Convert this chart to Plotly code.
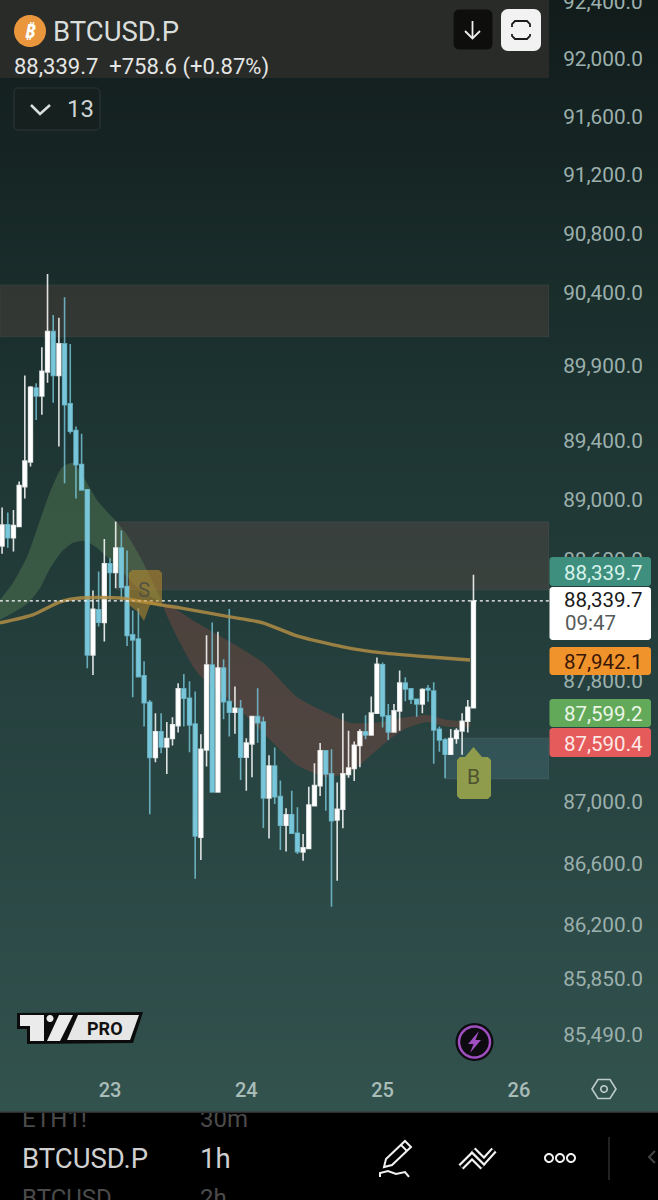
import numpy as np
import plotly.graph_objects as go

FONT = 'Roboto'
W = 658
H = 1200
AXIS_X = 549

# hours from 23rd 00:00
HOURS = list(range(-19, 65))
OPEN = [88693, 88833, 88747, 88822, 89089, 89255, 89752, 89698, 89861, 90133,
        89836, 90050, 89646, 89465, 89237, 89067, 87969, 88267, 88183, 88573,
        88515, 88678, 88422, 88101, 88073, 87830, 87656, 87292, 87461, 87362,
        87417, 87502, 87744, 87682, 87513, 86771, 87342, 87901, 87067, 87881,
        87660, 87590, 87614, 87295, 87382, 87561, 87526, 87027, 87237, 87036,
        86849, 86918, 86797, 86675, 86697, 86977, 87108, 87336, 87185, 86884,
        86953, 87182, 87220, 87371, 87461, 87441, 87584, 87903, 87566, 87461,
        87599, 87782, 87744, 87676, 87645, 87746, 87730, 87478, 87408, 87314,
        87417, 87467, 87531, 87620]
HIGH = [88949, 88915, 88933, 89123, 89836, 89766, 89784, 90028, 90525, 90246,
        90228, 90366, 90050, 89492, 89443, 89067, 88395, 88522, 88738, 88611,
        88855, 88795, 88662, 88262, 88278, 87927, 87671, 87584, 87584, 87526,
        87557, 87782, 87843, 87795, 87726, 87446, 88099, 88183, 88121, 87940,
        88273, 87759, 87671, 87419, 87561, 87748, 87561, 87308, 87358, 87141,
        86960, 87075, 86966, 86792, 87101, 87255, 87387, 87336, 87347, 87128,
        87584, 87469, 87397, 87478, 87570, 87693, 87951, 87918, 87645, 87645,
        87865, 87821, 87748, 87676, 87748, 87770, 87788, 87496, 87419, 87480,
        87485, 87584, 87671, 88500]
LOW = [88640, 88680, 88655, 88822, 89009, 89223, 89537, 89572, 89788, 89653,
       89358, 89112, 89443, 89009, 89067, 87881, 87836, 88156, 88057, 88333,
       88411, 88333, 88028, 87689, 87825, 87496, 86921, 87262, 87321, 87185,
       87371, 87456, 87496, 87327, 86501, 86623, 87233, 87067, 87067, 87544,
       87430, 87448, 87145, 87075, 87163, 87390, 86831, 86762, 86988, 86688,
       86677, 86797, 86662, 86618, 86697, 86977, 87040, 86944, 86319, 86488,
       86829, 87160, 87139, 87229, 87413, 87441, 87584, 87489, 87408, 87461,
       87469, 87662, 87645, 87561, 87584, 87660, 87251, 87331, 87157, 87314,
       87382, 87310, 87456, 87620]
CLOSE = [88831, 88747, 88829, 89096, 89260, 89757, 89698, 89865, 90133, 89836,
         90050, 89639, 89461, 89235, 89067, 87969, 88271, 88185, 88573, 88515,
         88678, 88418, 88097, 88068, 87825, 87653, 87292, 87461, 87362, 87417,
         87507, 87744, 87682, 87507, 86779, 87347, 87901, 87067, 87881, 87660,
         87590, 87616, 87295, 87387, 87561, 87522, 87027, 87237, 87036, 86849,
         86918, 86797, 86677, 86701, 86981, 87108, 87336, 87185, 86879, 86953,
         87185, 87224, 87373, 87461, 87441, 87584, 87907, 87566, 87461, 87599,
         87782, 87744, 87676, 87645, 87739, 87737, 87474, 87408, 87314, 87417,
         87469, 87531, 87623, 88326]

GREEN_HOURS = [-19.4, -17.1, -14.6, -12.3, -10.6, -8.5, -6.5, -4.4, -2.3, 0.5, 3, 5.3, 7.6, 9.3]
GREEN_UPPER = [88333, 88446, 88620, 88867, 89047, 89215, 89248, 89134, 89000, 88880, 88767, 88620, 88446, 88313]
GREEN_LOWER = [88201, 88247, 88307, 88413, 88540, 88653, 88713, 88727, 88680, 88580, 88486, 88400, 88346, 88313]

RED_HOURS = [9.3, 15.3, 21.1, 27, 32.9, 38.2, 42.3, 48, 51.6, 55.8, 59.3, 63.4]
RED_UPPER = [88313, 88181, 88055, 87916, 87691, 87586, 87520, 87526, 87553, 87572, 87540, 87520]
RED_LOWER = [88313, 87856, 87671, 87454, 87244, 87165, 87198, 87375, 87474, 87526, 87494, 87494]

EMA_HOURS = [-19.4, -13.6, -8.8, -5.3, 1.8, 8.8, 12.3, 21.1, 26.9, 32.9, 41, 48, 55.8, 63.4]
EMA_VALUES = [88181, 88234, 88320, 88346, 88346, 88300, 88280, 88220, 88181, 88095, 88022, 87982, 87956, 87935]

PRICE_TICKS = [92000, 91600, 91200, 90800, 90400, 89900, 89400, 89000,
               88600, 87800, 87000, 86600, 86200, 85850, 85490]
DAY_TICKS = [0, 24, 48, 72]
DAY_LABELS = ['23', '24', '25', '26']

LAST_LINE = 88326
ZONES = [(-19.4, 90450, 90098), (1.2, 88853, 88400), (59, 87421, 87152)]

BG_STOPS = [(0, (18, 28, 27)), (150, (22, 37, 36)), (400, (29, 52, 50)),
            (700, (38, 65, 63)), (1112, (51, 83, 79))]


def px(x, y):
    return x / W, 1 - y / H


def to_path(points, close=True):
    parts = []
    for i, (x, y) in enumerate(points):
        fx, fy = px(x, y)
        parts.append(('M' if i == 0 else 'L') + f'{fx:.5f},{fy:.5f}')
    return ' '.join(parts) + (' Z' if close else '')


def round_rect(x0, y0, x1, y1, r):
    pts = []
    corners = [(x1 - r, y0 + r, -90), (x1 - r, y1 - r, 0), (x0 + r, y1 - r, 90), (x0 + r, y0 + r, 180)]
    for cx, cy, start in corners:
        for a in np.radians(np.linspace(start, start + 90, 5)):
            pts.append((cx + r * np.cos(a), cy + r * np.sin(a)))
    return to_path(pts)


def circle(cx, cy, r):
    return to_path([(cx + r * np.cos(a), cy + r * np.sin(a)) for a in np.linspace(0, 2 * np.pi, 40)[:-1]])


def add_path(fig, path, fill='rgba(0,0,0,0)', line='rgba(0,0,0,0)', width=0, layer='above'):
    fig.add_shape(type='path', path=path, xref='paper', yref='paper', fillcolor=fill,
                  line=dict(color=line, width=width), layer=layer)


def add_text(fig, x, y, text, size, color, anchor='left', family=FONT):
    fx, fy = px(x, y)
    fig.add_annotation(x=fx, y=fy, xref='paper', yref='paper', text=text, showarrow=False,
                       xanchor=anchor, yanchor='middle', borderpad=0,
                       font=dict(family=family, size=size, color=color))


def add_background(fig):
    steps = list(range(0, 1112, 8))
    ys = [s[0] for s in BG_STOPS]
    for y in steps:
        rgb = [int(np.interp(y + 4, ys, [s[1][i] for s in BG_STOPS])) for i in range(3)]
        fx0, fy0 = px(0, y)
        fx1, fy1 = px(W, y + 8)
        fig.add_shape(type='rect', xref='paper', yref='paper', x0=fx0, x1=fx1, y0=fy0, y1=fy1,
                      fillcolor=f'rgb({rgb[0]},{rgb[1]},{rgb[2]})', line_width=0, layer='below')
    fx0, fy0 = px(0, 1112)
    fx1, fy1 = px(W, H)
    fig.add_shape(type='rect', xref='paper', yref='paper', x0=fx0, x1=fx1, y0=fy0, y1=fy1,
                  fillcolor='#000000', line_width=0, layer='below')
    fig.add_shape(type='line', xref='paper', yref='paper', x0=fx0, x1=fx1, y0=fy0, y1=fy0,
                  line=dict(color='#3a3f3e', width=1.5), layer='above')


def add_zones(fig):
    colors = ['rgba(126,84,76,0.25)', 'rgba(126,84,76,0.25)', 'rgba(110,170,195,0.17)']
    for (start, top, bottom), color in zip(ZONES, colors):
        fig.add_shape(type='rect', xref='x', yref='y', x0=start, x1=77.3, y0=bottom, y1=top,
                      fillcolor=color, line=dict(color='rgba(255,255,255,0.06)', width=1), layer='below')
    fig.add_shape(type='line', xref='x', yref='y', x0=-19.4, x1=77.3, y0=LAST_LINE, y1=LAST_LINE,
                  line=dict(color='#ffffff', width=1.3, dash='dot'), layer='above')


def add_header(fig):
    add_path(fig, to_path([(0, 0), (AXIS_X, 0), (AXIS_X, 78), (0, 78)]), fill='rgba(42,44,41,0.95)')
    add_text(fig, 603, 2, '92,400.0', 20.8, '#9cb0ad', 'center')
    add_path(fig, circle(30, 31, 16), fill='#e9963c')
    add_text(fig, 30, 31, '<b><i>₿</i></b>', 19, '#ffffff', 'center', 'Noto Sans')
    add_text(fig, 52, 31, 'BTCUSD.P', 27.5, '#d9dddc')
    add_text(fig, 13, 67, '88,339.7  +758.6 (+0.87%)', 22, '#e4e6e5')
    add_path(fig, round_rect(14, 88, 100, 130, 4), fill='#16211f', line='#2d3836', width=1)
    add_path(fig, to_path([(31, 105), (40, 114), (50, 105)], close=False), line='#d9dddc', width=2.5)
    add_text(fig, 66, 109, '13', 24, '#cfd5d4')
    # top right buttons
    add_path(fig, round_rect(453, 9, 493, 50, 6), fill='#0e0e0d', line='#2c2c2a', width=1)
    add_path(fig, to_path([(472.5, 21), (472.5, 38)], close=False), line='#f0f0f0', width=1.8)
    add_path(fig, to_path([(465, 31), (472.5, 38.5), (480, 31)], close=False), line='#f0f0f0', width=1.8)
    add_path(fig, round_rect(501, 9, 541, 51, 7), fill='#f2f2f2')
    add_path(fig, to_path([(512, 27), (512, 24), (515, 21), (527, 21), (530, 24), (530, 27)], close=False),
             line='#1a1a1a', width=1.8)
    add_path(fig, to_path([(512, 34), (512, 36), (515, 39), (527, 39), (530, 36), (530, 34)], close=False),
             line='#1a1a1a', width=1.8)


def add_badges(fig):
    badges = [(557, 586, '#3f8f7e', '88,339.7', '#d8f3ec'),
              (647, 675, '#f0932b', '87,942.1', '#3a1606'),
              (699, 727, '#63a95a', '87,599.2', '#eaf6e6'),
              (728, 757, '#e55a5a', '87,590.4', '#fde8e6')]
    for y0, y1, color, label, text_color in badges:
        add_path(fig, round_rect(549.5, y0, 651, y1, 3), fill=color)
        add_text(fig, 603.5, (y0 + y1) / 2 + 1, label, 20.5, text_color, 'center')
    add_path(fig, round_rect(549.5, 587, 651, 640, 3), fill='#ffffff')
    add_text(fig, 603.5, 600, '88,339.7', 20.5, '#1a1a1a', 'center')
    add_text(fig, 564, 623, '09:47', 20.5, '#555a5a')


def add_markers(fig):
    s_marker = [(132, 570), (159, 570), (162, 573), (162, 605), (150, 605), (144, 621), (138, 612), (129, 605), (129, 573)]
    add_path(fig, to_path(s_marker), fill='rgba(190,140,45,0.55)')
    add_text(fig, 144, 590, 'S', 20.5, '#555240', 'center')
    b_marker = [(473.5, 747), (482, 757), (488, 757), (491, 760), (491, 796), (488, 799), (460, 799), (457, 796), (457, 760), (460, 757), (465, 757)]
    add_path(fig, to_path(b_marker), fill='#8f9c4b')
    add_text(fig, 473.5, 777, 'B', 21, '#4d5230', 'center')


def add_logo(fig):
    add_path(fig, to_path([(17, 1013), (143, 1012), (133, 1043), (27, 1044), (27, 1029), (17, 1029)]), fill='#0b0b0b')
    add_path(fig, to_path([(20, 1015), (44, 1015), (44, 1041), (30, 1041), (30, 1026), (20, 1026)]), fill='#ebebeb')
    add_path(fig, circle(50, 1018.5, 3.5), fill='#ebebeb')
    add_path(fig, to_path([(59, 1015), (73, 1015), (60, 1041), (47, 1041)]), fill='#ebebeb')
    add_path(fig, to_path([(78, 1015), (139, 1015), (130, 1040), (67, 1040)]), fill='#e6e6e6')
    add_text(fig, 105, 1028, '<b>PRO</b>', 18, '#111111', 'center')
    # bolt button
    add_path(fig, circle(474.5, 1042, 19), fill='#0d0a10')
    add_path(fig, circle(474.5, 1042, 15.5), line='#a04fc0', width=2.5)
    add_path(fig, to_path([(479, 1031), (468, 1044), (473.5, 1044), (470, 1053), (481, 1040), (475.5, 1040)]), fill='#a04fc0')
    # chart settings
    add_path(fig, to_path([(592, 1089), (598, 1079.5), (610, 1079.5), (616, 1089), (610, 1098.5), (598, 1098.5)]),
             line='#bcccc9', width=1.6)
    add_path(fig, circle(604, 1089, 3.2), line='#bcccc9', width=1.6)


def add_toolbar(fig):
    # pencil
    add_path(fig, to_path([(405, 1141), (411, 1147), (392, 1165), (384, 1167), (386, 1159)]), line='#f2f2f2', width=2)
    add_path(fig, to_path([(401, 1145), (407, 1151)], close=False), line='#f2f2f2', width=1.8)
    add_path(fig, to_path([(380, 1177), (380, 1173), (388, 1171), (396, 1174), (405, 1172), (409, 1177)], close=False),
             line='#f2f2f2', width=2)
    # hollow chevrons, white stroke with a black core
    for color, width in (('#f2f2f2', 7), ('#000000', 2.6)):
        add_path(fig, to_path([(461, 1167), (472, 1156), (483, 1167)], close=False), line=color, width=width)
        add_path(fig, to_path([(473, 1150), (484, 1161), (494, 1150)], close=False), line=color, width=width)
    # dots
    for cx in (549, 560, 571):
        add_path(fig, circle(cx, 1158, 4), line='#f2f2f2', width=2)
    add_path(fig, to_path([(609, 1137), (609, 1180)], close=False), line='#2e2e2e', width=1.5)
    add_path(fig, to_path([(655, 1151), (649, 1157), (655, 1163)], close=False), line='#444444', width=2)


def build_figure():
    fig = go.Figure()

    # clouds
    for hours, upper, lower, color in [(GREEN_HOURS, GREEN_UPPER, GREEN_LOWER, 'rgba(90,130,85,0.42)'),
                                       (RED_HOURS, RED_UPPER, RED_LOWER, 'rgba(135,75,65,0.42)')]:
        fig.add_trace(go.Scatter(x=hours + hours[::-1], y=upper + lower[::-1], mode='lines',
                                 line=dict(width=0, shape='spline', smoothing=0.6), fill='toself',
                                 fillcolor=color, hoverinfo='skip', showlegend=False, zorder=-1))

    fig.add_trace(go.Candlestick(x=HOURS, open=OPEN, high=HIGH, low=LOW, close=CLOSE,
                                 increasing=dict(fillcolor='#ffffff', line=dict(color='rgba(255,255,255,0.85)', width=1.6)),
                                 decreasing=dict(fillcolor='#78c6da', line=dict(color='rgba(120,200,220,0.8)', width=1.6)),
                                 whiskerwidth=0, hoverinfo='skip', showlegend=False, zorder=0))

    fig.add_trace(go.Scatter(x=EMA_HOURS, y=EMA_VALUES, mode='lines',
                             line=dict(color='rgba(175,140,68,0.85)', width=3.4, shape='spline', smoothing=0.6),
                             hoverinfo='skip', showlegend=False, zorder=1))

    # bottom list, clipped by its own axes
    fig.add_trace(go.Scatter(x=[22, 200, 22, 200, 22, 200], y=[1121, 1121, 1161, 1161, 1200, 1200],
                             text=['ETH1!', '30m', 'BTCUSD.P', '1h', 'BTCUSD', '2h'], mode='text',
                             textposition='middle right', cliponaxis=True,
                             textfont=dict(family=FONT, size=[24, 24, 27.5, 27.5, 24, 24],
                                           color=['#4b4b4b', '#4b4b4b', '#d0d0d0', '#d0d0d0', '#4b4b4b', '#4b4b4b']),
                             xaxis='x2', yaxis='y2', hoverinfo='skip', showlegend=False))

    add_background(fig)
    add_zones(fig)
    add_header(fig)
    add_badges(fig)
    add_markers(fig)
    add_logo(fig)
    add_toolbar(fig)

    fig.update_layout(
        width=W, height=H, margin=dict(l=0, r=0, t=0, b=0),
        paper_bgcolor='#000000', plot_bgcolor='rgba(0,0,0,0)',
        boxgap=0.06, hovermode=False, showlegend=False,
        xaxis=dict(domain=[0, AXIS_X / W], range=[-19.37, 77.3], tickvals=DAY_TICKS, ticktext=DAY_LABELS,
                   showgrid=False, zeroline=False, showline=False, rangeslider=dict(visible=False),
                   ticks='outside', ticklen=4, tickcolor='rgba(0,0,0,0)',
                   tickfont=dict(family=FONT, size=20, color='#a9bcb8', weight=500)),
        yaxis=dict(domain=[(H - 1068) / H, 1], type='log', range=[np.log10(85278), np.log10(92409)],
                   side='right', tickvals=PRICE_TICKS, ticktext=[f'{t:,.1f}' for t in PRICE_TICKS],
                   showgrid=False, zeroline=False, showline=False,
                   ticks='outside', ticklen=9, tickcolor='rgba(0,0,0,0)',
                   tickfont=dict(family=FONT, size=20.8, color='#9cb0ad')),
        xaxis2=dict(domain=[0, 1], range=[0, W], visible=False, anchor='y2'),
        yaxis2=dict(domain=[0, 87 / H], range=[H, 1113], visible=False, anchor='x2'),
    )
    return fig


def main():
    fig = build_figure()
    fig.write_html('out.html', config={'displayModeBar': False},
                   post_script="document.body.style.margin='0';")


if __name__ == '__main__':
    main()
